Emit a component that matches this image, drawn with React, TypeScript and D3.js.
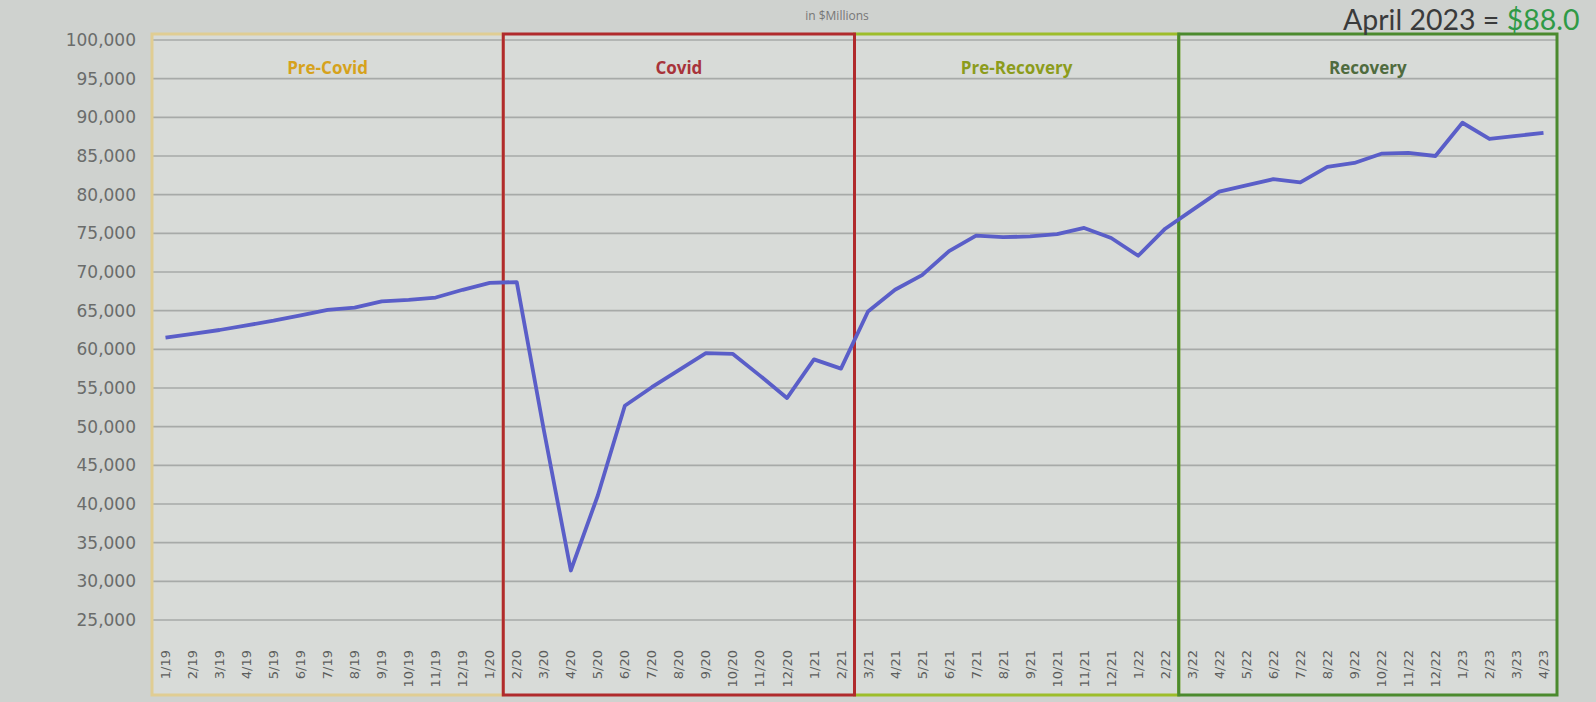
import React from 'react';
import * as d3 from 'd3';

const months = [
  '1/19','2/19','3/19','4/19','5/19','6/19','7/19','8/19','9/19','10/19','11/19','12/19',
  '1/20','2/20','3/20','4/20','5/20','6/20','7/20','8/20','9/20','10/20','11/20','12/20',
  '1/21','2/21','3/21','4/21','5/21','6/21','7/21','8/21','9/21','10/21','11/21','12/21',
  '1/22','2/22','3/22','4/22','5/22','6/22','7/22','8/22','9/22','10/22','11/22','12/22',
  '1/23','2/23','3/23','4/23'
];

const sales = [
  61500, 62000, 62500, 63100, 63700, 64400, 65100, 65400, 66200, 66400, 66700, 67700,
  68600, 68700, 49600, 31400, 41100, 52700, 55100, 57300, 59500, 59400, 56600, 53700,
  58700, 57500, 64900, 67700, 69600, 72700, 74700, 74500, 74600, 74900, 75700, 74400,
  72100, 75600, 78000, 80400, 81200, 82000, 81600, 83600, 84100, 85300, 85400, 85000,
  89300, 87200, 87600, 88000
];

const yTicks = [25000, 30000, 35000, 40000, 45000, 50000, 55000, 60000, 65000, 70000, 75000, 80000, 85000, 90000, 95000, 100000];

const phaseNames = ['Pre-Covid', 'Covid', 'Pre-Recovery', 'Recovery'];
const phaseStart = ['1/19', '2/20', '3/21', '3/22'];
const phaseEnd = ['1/20', '2/21', '2/22', '4/23'];

const subtitle = 'in $Millions';
const calloutText = 'April 2023 = ';
const calloutValue = '$88.0';

const W = 1596;
const H = 702;

const phaseStroke = ['#e0cd93', '#b02a2c', '#9dbd2a', '#4b8a2e'];
const phaseLabel = ['#d6a21c', '#a8333a', '#8c9c1c', '#4f6b3e'];
const drawOrder = [0, 2, 3, 1];

export default function App() {
  const x = d3.scaleBand<string>().domain(months).range([152, 1557]);
  const bw = x.bandwidth();
  const y = d3.scaleLinear().domain([25000, 100000]).range([620, 40]);
  const fmt = d3.format(',');

  const line = d3
    .line<number>()
    .x((_, i) => (x(months[i]) as number) + bw / 2)
    .y((d) => y(d));

  const boxTop = y(100000) - 6;
  const boxBottom = 695;
  const left = x(months[0]) as number;
  const right = (x(months[months.length - 1]) as number) + bw;

  return (
    <svg
      width={W}
      height={H}
      style={{ position: 'absolute', left: 0, top: 0, background: '#cfd2cf' }}
    >
      <rect x={0} y={0} width={W} height={H} fill="#cfd2cf" />
      <rect x={left} y={boxTop} width={right - left} height={boxBottom - boxTop} fill="#d8dbd8" />
      {/* gridlines */}
      {yTicks.map((t) => (
        <line
          key={t}
          x1={left}
          x2={right}
          y1={y(t)}
          y2={y(t)}
          stroke="#a7aaa8"
          strokeWidth={1.6}
        />
      ))}
      {/* y tick labels */}
      {yTicks.map((t) => (
        <text
          key={'l' + t}
          x={136}
          y={y(t)}
          dy="0.35em"
          textAnchor="end"
          fontFamily="DejaVu Sans"
          fontSize={17}
          fill="#6a6c6b"
        >
          {fmt(t)}
        </text>
      ))}
      {/* x tick labels */}
      {months.map((m) => (
        <text
          key={'m' + m}
          transform={`translate(${(x(m) as number) + bw / 2},650) rotate(-90)`}
          textAnchor="end"
          dy="0.35em"
          fontFamily="DejaVu Sans"
          fontSize={13}
          fill="#5c5e5d"
        >
          {m}
        </text>
      ))}
      {/* phase boxes */}
      {drawOrder.map((i) => {
        const x0 = x(phaseStart[i]) as number;
        const x1 = (x(phaseEnd[i]) as number) + bw;
        return (
          <g key={phaseNames[i]}>
            <rect
              x={x0}
              y={boxTop}
              width={x1 - x0}
              height={boxBottom - boxTop}
              fill="none"
              stroke={phaseStroke[i]}
              strokeWidth={3}
            />
            <text
              x={(x0 + x1) / 2}
              y={boxTop + 40}
              textAnchor="middle"
              fontFamily="Open Sans"
              fontWeight="bold"
              fontSize={17}
              fill={phaseLabel[i]}
            >
              {phaseNames[i]}
            </text>
          </g>
        );
      })}
      {/* data line */}
      <path
        d={line(sales) || ''}
        fill="none"
        stroke="#5a5ec8"
        strokeWidth={3.8}
        strokeLinejoin="round"
      />
      {/* titles */}
      <text x={837} y={20} textAnchor="middle" fontFamily="Open Sans" fontSize={12} fill="#777">
        {subtitle}
      </text>
      <text x={1343} y={30} fontFamily="Lato" fontSize={28.5} fill="#3a3b3b">
        {calloutText}
        <tspan fill="#2f9a46">{calloutValue}</tspan>
      </text>
    </svg>
  );
}
